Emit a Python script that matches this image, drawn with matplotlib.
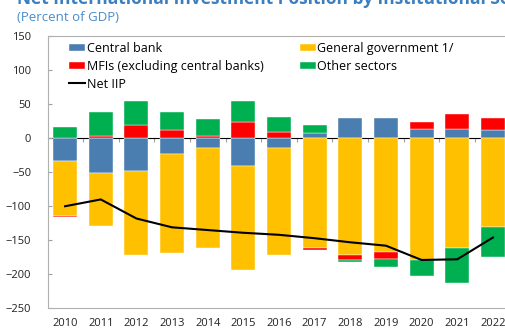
import numpy as np
import matplotlib
matplotlib.use('Agg')
import matplotlib.pyplot as plt

plt.rcParams['font.family'] = ['Open Sans', 'DejaVu Sans']

# values (percent of GDP)
years = [2010, 2011, 2012, 2013, 2014, 2015, 2016, 2017, 2018, 2019, 2020, 2021, 2022]
central_bank = [-33, -51, -48, -23, -14, -41, -15, 7, 29, 30, 14, 14, 12]
general_gov = [-82, -78, -123, -146, -148, -153, -157, -161, -171, -168, -179, -161, -131]
mfis = [-1, 4, 19, 12, 4, 24, 9, -4, -8, -9, 10, 22, 17]
other = [16, 35, 36, 26, 24, 31, 22, 12, -3, -12, -23, -52, -44]
net_iip = [-100, -90, -118, -131, -135, -139, -142, -147, -153, -158, -179, -178, -146]

series = [
    ('Central bank', central_bank, '#4a7eb0'),
    ('General government 1/', general_gov, '#ffc000'),
    ('MFIs (excluding central banks)', mfis, '#ff0000'),
    ('Other sectors', other, '#00b050'),
]

fig = plt.figure(figsize=(5.05, 3.29), dpi=100)
ax = fig.add_axes([0.095, 0.063, 0.915, 0.827])

x = np.array(years)
pos_base = np.zeros(len(years))
neg_base = np.zeros(len(years))
handles = {}
for name, vals, col in series:
    v = np.array(vals, dtype=float)
    bottom = np.where(v >= 0, pos_base, neg_base)
    b = ax.bar(x, v, 0.67, bottom=bottom, color=col, label=name,
               edgecolor='white', linewidth=0.3, zorder=2)
    handles[name] = b
    pos_base += np.where(v >= 0, v, 0)
    neg_base += np.where(v < 0, v, 0)

line, = ax.plot(x, net_iip, color='black', lw=1.5, label='Net IIP', zorder=3)

ax.set_xlim(2009.52, 2022.48)
ax.set_ylim(-250, 150)
ax.set_yticks(np.arange(-250, 151, 50))
ax.set_xticks(years)
ax.tick_params(axis='x', length=0, pad=7, labelsize=8, colors='#222222')
ax.tick_params(axis='y', direction='in', length=3, pad=12, labelsize=8,
               colors='#222222', color='#a0a0a0')
for s in ['left', 'top', 'bottom']:
    ax.spines[s].set_color('#b0b0b0')
ax.spines['right'].set_visible(False)

# zero line with small ticks between the bars
zero = ax.secondary_xaxis(0.625)
zero.set_xticks(np.arange(2010.5, 2022, 1))
zero.tick_params(direction='in', length=3, color='#a0a0a0', labelbottom=False)
zero.spines['bottom'].set_color('#a0a0a0')
zero.set_xticklabels([])

hl = [handles['Central bank'], handles['MFIs (excluding central banks)'], line,
      handles['General government 1/'], handles['Other sectors']]
labels = ['Central bank', 'MFIs (excluding central banks)', 'Net IIP',
          'General government 1/', 'Other sectors']
ax.legend(hl, labels, ncol=2, loc='upper left', bbox_to_anchor=(0.035, 0.997),
          frameon=False, fontsize=9, handlelength=1.3, handleheight=0.55,
          handletextpad=0.1, labelspacing=0.38, columnspacing=2.9,
          borderaxespad=0.0)

# title is partly cut at the top edge, as in the source image
fig.text(0.034, 0.987, 'Net International Investment Position by Institutional Sector',
         fontsize=12.5, fontweight='bold', color='#3c7fc0', va='baseline')
fig.text(0.034, 0.948, '(Percent of GDP)', fontsize=9.5, color='#4a8cc8', va='center')

fig.savefig('out.png', dpi=100)
